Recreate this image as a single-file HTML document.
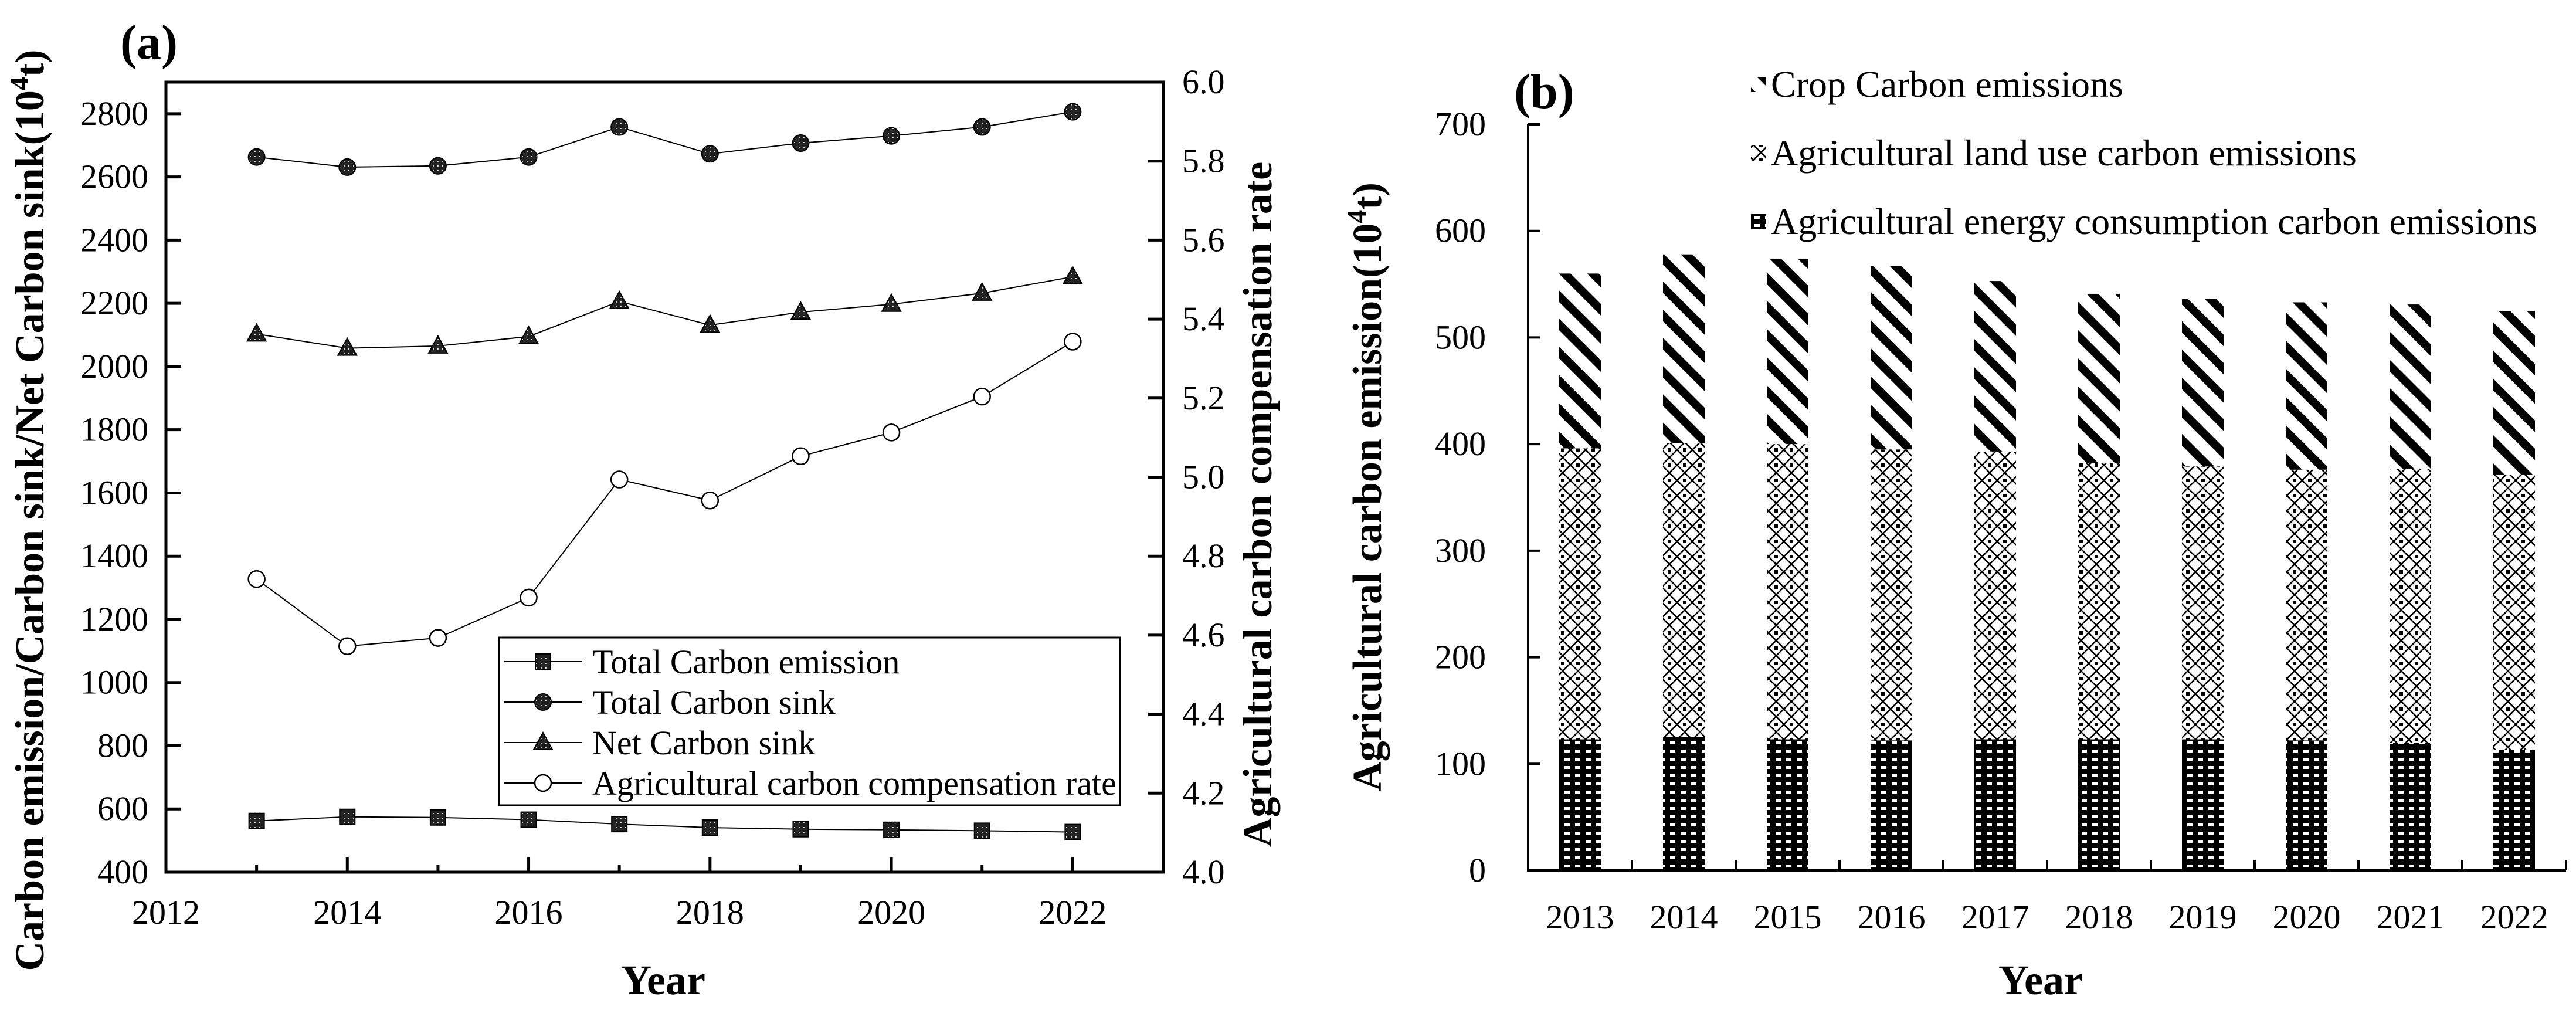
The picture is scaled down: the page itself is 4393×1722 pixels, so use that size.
<!DOCTYPE html>
<html><head><meta charset="utf-8"><style>
html,body{margin:0;padding:0;background:#fff;}
svg{display:block;}
svg text{font-family:"Liberation Serif","DejaVu Serif",serif;}
</style></head><body>
<svg id="chart" width="4393" height="1722" viewBox="0 0 4393 1722" xmlns="http://www.w3.org/2000/svg">
<defs>
<pattern id="pCrop" width="34" height="34" patternUnits="userSpaceOnUse" patternTransform="rotate(45)">
<rect width="34" height="34" fill="#fff"/><rect x="0" y="0" width="34" height="14" fill="#000"/>
</pattern>
<pattern id="pLand" width="26" height="26" patternUnits="userSpaceOnUse">
<rect width="26" height="26" fill="#fff"/>
<path d="M0,13 L13,0 L26,13 L13,26 Z" fill="none" stroke="#000" stroke-width="2.5"/>
<rect x="10" y="10" width="6" height="6" fill="#000"/>
</pattern>
<pattern id="pEnergy" width="18" height="14" patternUnits="userSpaceOnUse">
<rect width="18" height="14" fill="#000"/><rect x="4" y="4" width="9" height="5" fill="#fff"/>
</pattern>
<pattern id="pMark" width="8" height="8" patternUnits="userSpaceOnUse">
<rect width="8" height="8" fill="#222"/><rect x="2" y="2" width="2" height="2" fill="#ccc"/>
</pattern>
</defs>
<g id="panelA"></g>
<g id="panelB"></g>
</svg>
<script>
const years = [2013,2014,2015,2016,2017,2018,2019,2020,2021,2022];
const totalEmission = [562,575,573,566,552,541,536,534,531,527];
const totalSink = [2663,2631,2635,2663,2758,2673,2707,2730,2758,2806];
const netSink = [2103,2058,2065,2095,2206,2131,2172,2197,2232,2284];
const compRate = [4.742,4.572,4.593,4.695,4.994,4.941,5.053,5.113,5.204,5.343];
const leftTicks = [400,600,800,1000,1200,1400,1600,1800,2000,2200,2400,2600,2800];
const rightTicks = [4.0,4.2,4.4,4.6,4.8,5.0,5.2,5.4,5.6,5.8,6.0];
const xTicksA = [2012,2014,2016,2018,2020,2022];
const energyEm = [123,125,123,122,123,123,123,122,120,113];
const landEm = [273,276,277,273,270,259,256,254,257,258];
const cropEm = [164,177,174,172,160,159,157,157,154,154];
const bTicks = [0,100,200,300,400,500,600,700];

const NS='http://www.w3.org/2000/svg';
const FF='"Liberation Serif", "DejaVu Serif", serif';
function mk(parent,tag,attrs,text){const e=document.createElementNS(NS,tag);for(const k in attrs)e.setAttribute(k,attrs[k]);if(tag==='text')e.style.fontFamily=FF;if(text!==undefined)e.textContent=text;parent.appendChild(e);return e;}

// ---------- Panel A ----------
const A=document.getElementById('panelA');
const aL=283,aR=1984,aT=140,aB=1487;
const xA=v=>aL+(v-2012)/(2023-2012)*(aR-aL);
const yL=v=>aB-(v-400)/(2900-400)*(aB-aT);
const yR=v=>aB-(v-4.0)/(6.0-4.0)*(aB-aT);

let t=mk(A,'text',{x:205,y:100,'font-size':84,'font-weight':'bold'},'(a)');



leftTicks.forEach(v=>{
  const y=yL(v);
  let l=mk(A,'line',{x1:aL,x2:aL+26,y1:y,y2:y,stroke:'#000','stroke-width':5});
  
  
  let tx=mk(A,'text',{x:253,y:y+19,'font-size':58,'text-anchor':'end'},String(v));
  
  
});
rightTicks.forEach(v=>{
  const y=yR(v);
  let l=mk(A,'line',{x1:aR-26,x2:aR,y1:y,y2:y,stroke:'#000','stroke-width':5});
  
  
  let tx=mk(A,'text',{x:2016,y:y+19,'font-size':58},v.toFixed(1));
  
  
});
for(let yv=2013;yv<=2022;yv++){
  const x=xA(yv);
  const major=(yv%2===0);
  let l=mk(A,'line',{x1:x,x2:x,y1:aB,y2:aB-(major?26:13),stroke:'#000','stroke-width':5});
  
  
}
xTicksA.forEach(v=>{
  let tx=mk(A,'text',{x:xA(v),y:1575,'font-size':58,'text-anchor':'middle'},String(v));
  
  
});
let frame=mk(A,'rect',{x:aL,y:aT,width:aR-aL,height:aB-aT,fill:'none',stroke:'#000','stroke-width':5});



function drawMarker(g,type,x,y){
  if(type==='square')return mk(g,'rect',{x:x-13,y:y-13,width:26,height:26,fill:'url(#pMark)',stroke:'#000','stroke-width':2});
  if(type==='circle')return mk(g,'circle',{cx:x,cy:y,r:14,fill:'url(#pMark)',stroke:'#000','stroke-width':2});
  if(type==='triangle')return mk(g,'polygon',{points:`${x},${y-17} ${x-16},${y+12} ${x+16},${y+12}`,fill:'url(#pMark)',stroke:'#000','stroke-width':2});
  return mk(g,'circle',{cx:x,cy:y,r:14,fill:'#fff',stroke:'#000','stroke-width':2.5});
}
function series(vals,yf,name,marker){
  const g=mk(A,'g',{});
  
  
  const pts=vals.map((v,i)=>xA(years[i])+','+yf(v)).join(' ');
  mk(g,'polyline',{points:pts,fill:'none',stroke:'#000','stroke-width':2});
  vals.forEach((v,i)=>{const m=drawMarker(g,marker,xA(years[i]),yf(v));
    
    });
}
series(totalEmission,yL,'total-carbon-emission-series','square');
series(totalSink,yL,'total-carbon-sink-series','circle');
series(netSink,yL,'net-carbon-sink-series','triangle');
series(compRate,yR,'compensation-rate-series','open');

const legA=mk(A,'g',{});


mk(legA,'rect',{x:851,y:1087,width:1059,height:286,fill:'#fff',stroke:'#000','stroke-width':3});
const legItems=[['square','Total Carbon emission'],['circle','Total Carbon sink'],['triangle','Net Carbon sink'],['open','Agricultural carbon compensation rate']];
legItems.forEach((it,i)=>{
  const y=1128+i*69;
  const g=mk(legA,'g',{});
  
  
  mk(g,'line',{x1:860,x2:993,y1:y,y2:y,stroke:'#000','stroke-width':2});
  drawMarker(g,it[0],926,y);
  mk(g,'text',{x:1010,y:y+20,'font-size':58},it[1]);
});

t=mk(A,'text',{x:1131,y:1695,'font-size':72,'font-weight':'bold','text-anchor':'middle'},'Year');


t=mk(A,'text',{transform:'translate(74,870) rotate(-90)','font-size':70,'font-weight':'bold','text-anchor':'middle'});


t.innerHTML='Carbon emission/Carbon sink/Net Carbon sink(10<tspan dy="-26" font-size="46">4</tspan><tspan dy="26">t)</tspan>';
t=mk(A,'text',{transform:'translate(2168,860) rotate(-90)','font-size':70,'font-weight':'bold','text-anchor':'middle'},'Agricultural carbon compensation rate');



// ---------- Panel B ----------
const B=document.getElementById('panelB');
const bL=2606,bR=4376,bT=212,bB=1484;
const catW=(bR-bL)/years.length;
const xB=i=>bL+catW*(i+0.5);
const yB=v=>bB-v/700*(bB-bT);
const barW=71;

t=mk(B,'text',{x:2582,y:184,'font-size':84,'font-weight':'bold'},'(b)');



years.forEach((yr,i)=>{
  const g=mk(B,'g',{});
  
  
  const x=xB(i)-barW/2;
  const e=energyEm[i],l=landEm[i],c=cropEm[i];
  let r=mk(g,'rect',{x:x,y:yB(e),width:barW,height:yB(0)-yB(e),fill:'url(#pEnergy)'});
  
  
  r=mk(g,'rect',{x:x,y:yB(e+l),width:barW,height:yB(e)-yB(e+l),fill:'url(#pLand)'});
  
  
  r=mk(g,'rect',{x:x,y:yB(e+l+c),width:barW,height:yB(e+l)-yB(e+l+c),fill:'url(#pCrop)'});
  
  
  let tx=mk(B,'text',{x:xB(i),y:1583,'font-size':58,'text-anchor':'middle'},String(yr));
  
  
  let tk=mk(B,'line',{x1:bL+catW*(i+1),x2:bL+catW*(i+1),y1:bB,y2:bB-18,stroke:'#000','stroke-width':4});
  
  
});
bTicks.forEach(v=>{
  const y=yB(v);
  let l=mk(B,'line',{x1:bL,x2:bL+20,y1:y,y2:y,stroke:'#000','stroke-width':4});
  
  
  let tx=mk(B,'text',{x:2534,y:y+19,'font-size':58,'text-anchor':'end'},String(v));
  
  
});
let ax=mk(B,'path',{d:`M${bL},${bT} L${bL},${bB} L${bR},${bB}`,fill:'none',stroke:'#000','stroke-width':4});



const legB=mk(B,'g',{});


[['url(#pCrop)','Crop Carbon emissions'],['url(#pLand)','Agricultural land use carbon emissions'],['url(#pEnergy)','Agricultural energy consumption carbon emissions']].forEach((it,i)=>{
  const y=143+i*117;
  const g=mk(legB,'g',{});
  
  
  mk(g,'rect',{x:2986,y:y-12,width:26,height:26,fill:it[0]});
  mk(g,'text',{x:3020,y:y+22,'font-size':64},it[1]);
});

t=mk(B,'text',{x:3480,y:1695,'font-size':72,'font-weight':'bold','text-anchor':'middle'},'Year');


t=mk(B,'text',{transform:'translate(2355,830) rotate(-90)','font-size':70,'font-weight':'bold','text-anchor':'middle'});


t.innerHTML='Agricultural carbon emission(10<tspan dy="-26" font-size="46">4</tspan><tspan dy="26">t)</tspan>';
</script>
</body></html>
